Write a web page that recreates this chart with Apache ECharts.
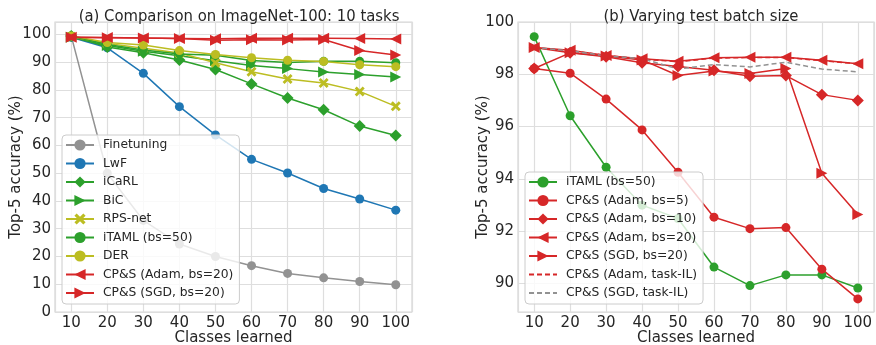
<!DOCTYPE html>
<html>
<head>
<meta charset="utf-8">
<script src="https://cdn.jsdelivr.net/npm/echarts@6/dist/echarts.min.js"></script>
<style>
  html, body { margin: 0; padding: 0; background: #fff; }
  #chart { width: 876px; height: 345px; }
</style>
</head>
<body>
<div id="chart"></div>
<script>
// classes learned (x axis, both panels)
const classes = [10, 20, 30, 40, 50, 60, 70, 80, 90, 100]

// (a) Comparison on ImageNet-100
const finetuning = [99.5, 50.0, 33.0, 24.5, 20.0, 16.7, 13.9, 12.3, 11.0, 9.8]
const lwf = [99.0, 95.2, 86.0, 74.0, 63.8, 55.0, 50.1, 44.5, 40.7, 36.7]
const icarl = [99.5, 95.5, 93.4, 90.8, 87.4, 82.2, 77.1, 72.9, 67.0, 63.6]
const bic = [99.0, 96.0, 94.0, 92.3, 90.5, 88.8, 87.7, 86.5, 85.6, 84.7]
const rpsNet = [99.2, 96.8, 95.0, 93.3, 89.8, 86.6, 84.0, 82.5, 79.5, 74.1]
const der = [99.5, 97.1, 96.2, 94.2, 92.8, 91.6, 90.7, 90.3, 89.1, 88.4]

// (b) Varying test batch size (also reused in panel a)
const itaml = [99.44, 96.41, 94.44, 92.99, 92.48, 90.62, 89.91, 90.32, 90.32, 89.82]
const adamBs5 = [98.22, 98.04, 97.05, 95.87, 94.25, 92.53, 92.09, 92.13, 90.54, 89.40]
const adamBs10 = [98.22, 98.82, 98.67, 98.44, 98.30, 98.15, 97.92, 97.95, 97.22, 97.00]
const adamBs20 = [99.02, 98.92, 98.72, 98.59, 98.50, 98.63, 98.65, 98.65, 98.54, 98.40]
const sgdBs20 = [99.02, 98.82, 98.70, 98.55, 97.95, 98.12, 98.03, 98.22, 94.21, 92.63]
const adamTaskIL = [99.02, 98.90, 98.72, 98.58, 98.48, 98.62, 98.64, 98.64, 98.52, 98.40]
const sgdTaskIL = [99.02, 98.90, 98.70, 98.60, 98.20, 98.37, 98.28, 98.46, 98.20, 98.09]

const C = {
  gray: '#929292',
  blue: '#1f77b4',
  green: '#2ca02c',
  olive: '#bcbd22',
  red: '#d62728'
}
const FONT = 'DejaVu Sans'
const X_SHAPE = 'path://M2,0L5,3L8,0L10,2L7,5L10,8L8,10L5,7L2,10L0,8L3,5L0,2Z'

const pairs = (ys) => classes.map((x, i) => [x, ys[i]])

function line (name, ys, color, symbol, idx, extra) {
  return Object.assign({
    name: name,
    type: 'line',
    xAxisIndex: idx,
    yAxisIndex: idx,
    data: pairs(ys),
    symbol: symbol,
    symbolSize: 9,
    color: color,
    lineStyle: { width: 1.5, color: color },
    itemStyle: { color: color },
    animation: false
  }, extra || {})
}

const tri = (rot) => ({ symbol: 'triangle', symbolSize: 11, symbolRotate: rot })
// dashed line, no markers (marker kept transparent so the legend shows just the dash)
const dashed = (color) => ({
  showSymbol: false,
  lineStyle: { width: 1.5, color: color, type: [5, 3] },
  itemStyle: { color: 'rgba(0,0,0,0)' }
})

const gridBorder = '#d6d6d6'
function xAxis (idx) {
  return {
    type: 'value', gridIndex: idx, min: 5.5, max: 104.5,
    minInterval: 10, maxInterval: 10,
    name: 'Classes learned', nameLocation: 'middle', nameGap: 19,
    nameMoveOverlap: false,
    nameTextStyle: { fontFamily: FONT, fontSize: 15, color: '#262626' },
    axisLine: { show: false }, axisTick: { show: false },
    axisLabel: {
      fontFamily: FONT, fontSize: 15, color: '#262626', margin: 4,
      formatter: (v) => (Math.abs(v % 10) < 1e-6 && v >= 10 && v <= 100 ? String(v) : '')
    },
    splitLine: { show: true, lineStyle: { color: '#dedede', width: 1.2 } }
  }
}
function yAxis (idx, min, max, step, gap) {
  return {
    type: 'value', gridIndex: idx, min: min, max: max,
    minInterval: step, maxInterval: step,
    name: 'Top-5 accuracy (%)', nameLocation: 'middle', nameGap: gap,
    nameMoveOverlap: false,
    nameTextStyle: { fontFamily: FONT, fontSize: 15, color: '#262626' },
    axisLine: { show: false }, axisTick: { show: false },
    axisLabel: {
      fontFamily: FONT, fontSize: 15, color: '#262626', margin: 4,
      formatter: (v) => {
        const r = Math.round(v)
        return Math.abs(v - r) < 1e-6 && r % step === 0 ? String(r) : ''
      }
    },
    splitLine: { show: true, lineStyle: { color: '#dedede', width: 1.2 } }
  }
}

const legendBase = {
  orient: 'vertical',
  itemWidth: 28,
  itemHeight: 14,
  itemGap: 4.5,
  padding: [3, 6, 4, 3],
  backgroundColor: 'rgba(255,255,255,0.8)',
  borderColor: '#cccccc',
  borderWidth: 1,
  borderRadius: 4,
  selectedMode: false,
  textStyle: { fontFamily: FONT, fontSize: 12.3, color: '#262626', lineHeight: 14, padding: [0, 0, 0, 4] }
}

const chart = echarts.init(document.getElementById('chart'), null, { renderer: 'canvas' })
chart.setOption({
  backgroundColor: '#ffffff',
  animation: false,
  title: [
    { text: '(a) Comparison on ImageNet-100: 10 tasks', left: 234, top: 3, textAlign: 'center',
      textStyle: { fontFamily: 'DejaVu Sans Condensed', fontSize: 16.5, fontWeight: 'normal', color: '#262626' } },
    { text: '(b) Varying test batch size', left: 696, top: 3, textAlign: 'center',
      textStyle: { fontFamily: 'DejaVu Sans Condensed', fontSize: 16.5, fontWeight: 'normal', color: '#262626' } }
  ],
  grid: [
    { left: 55, right: 464, top: 22, bottom: 33, show: true, borderColor: gridBorder, borderWidth: 1.2,
      containLabel: false, outerBoundsMode: 'none' },
    { left: 518, right: 2, top: 22, bottom: 33, show: true, borderColor: gridBorder, borderWidth: 1.2,
      containLabel: false, outerBoundsMode: 'none' }
  ],
  xAxis: [xAxis(0), xAxis(1)],
  yAxis: [yAxis(0, 0, 104.5, 10, 31), yAxis(1, 88.9, 100, 2, 27)],
  legend: [
    Object.assign({}, legendBase, {
      left: 62, top: 135,
      data: ['Finetuning', 'LwF', 'iCaRL', 'BiC', 'RPS-net', 'iTAML (bs=50)', 'DER', 'CP&S (Adam, bs=20)', 'CP&S (SGD, bs=20)']
    }),
    Object.assign({}, legendBase, {
      left: 525, top: 172,
      data: ['iTAML (bs=50)', 'CP&S (Adam, bs=5)', 'CP&S (Adam, bs=10)', 'CP&S (Adam, bs=20)', 'CP&S (SGD, bs=20)', 'CP&S (Adam, task-IL)', 'CP&S (SGD, task-IL)']
    })
  ],
  series: [
    line('Finetuning', finetuning, C.gray, 'circle', 0),
    line('LwF', lwf, C.blue, 'circle', 0),
    line('iCaRL', icarl, C.green, 'diamond', 0, { symbolSize: 12 }),
    line('BiC', bic, C.green, 'triangle', 0, tri(-90)),
    line('RPS-net', rpsNet, C.olive, X_SHAPE, 0, { symbolSize: 10 }),
    line('iTAML (bs=50)', itaml, C.green, 'circle', 0),
    line('DER', der, C.olive, 'circle', 0),
    line('CP&S (Adam, bs=20)', adamBs20, C.red, 'triangle', 0, tri(90)),
    line('CP&S (SGD, bs=20)', sgdBs20, C.red, 'triangle', 0, tri(-90)),

    line('iTAML (bs=50)', itaml, C.green, 'circle', 1),
    line('CP&S (Adam, bs=5)', adamBs5, C.red, 'circle', 1),
    line('CP&S (Adam, bs=10)', adamBs10, C.red, 'diamond', 1, { symbolSize: 12 }),
    line('CP&S (Adam, bs=20)', adamBs20, C.red, 'triangle', 1, tri(90)),
    line('CP&S (SGD, bs=20)', sgdBs20, C.red, 'triangle', 1, tri(-90)),
    line('CP&S (Adam, task-IL)', adamTaskIL, C.red, 'circle', 1, dashed(C.red)),
    line('CP&S (SGD, task-IL)', sgdTaskIL, C.gray, 'circle', 1, dashed(C.gray))
  ]
})
</script>
</body>
</html>
